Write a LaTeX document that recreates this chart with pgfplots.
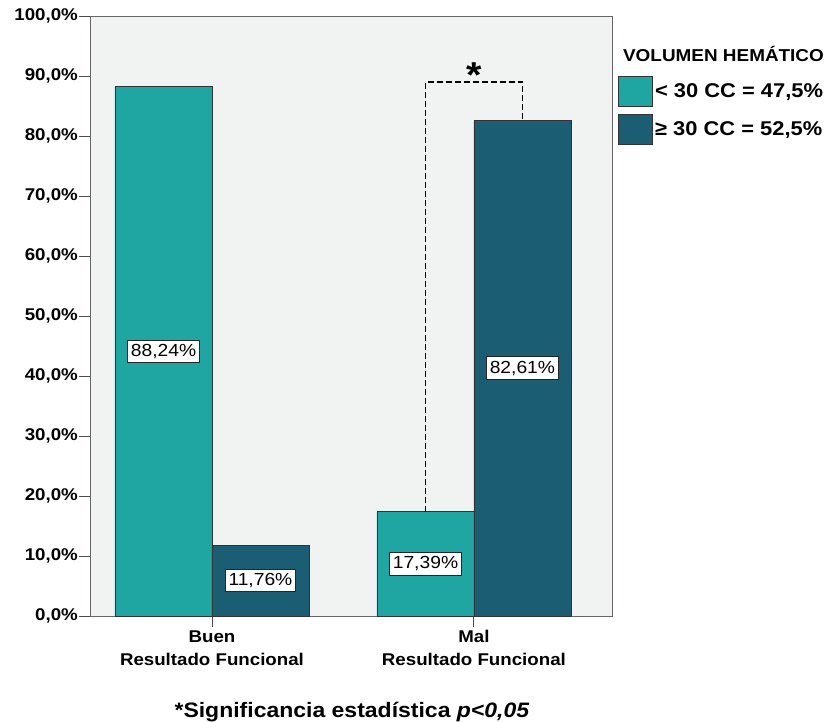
\documentclass[border=0pt]{standalone}
\usepackage{fontspec}
\setmainfont[FakeStretch=1.1]{Liberation Sans}
\usepackage{pgfplots}
\pgfplotsset{compat=1.18}
\definecolor{tealA}{HTML}{1FA6A3}
\definecolor{tealB}{HTML}{1B5D72}
\definecolor{bgc}{HTML}{F1F2F2}
\begin{document}
\begin{tikzpicture}[x=1pt,y=1pt]
\useasboundingbox (0,0) rectangle (830,721);
\begin{axis}[
  at={(90pt,105pt)}, anchor=south west,
  scale only axis, width=522pt, height=600pt,
  xmin=-0.4656, xmax=1.527, ymin=0, ymax=100,
  axis background/.style={fill=bgc},
  axis line style={draw=black!60, line width=0.9pt},
  ytick={0,10,...,100},
  xtick={0,1},
  xticklabels={{Buen\\Resultado Funcional},{Mal\\Resultado Funcional}},
  tick align=outside, major tick length=11pt,
  tick style={black!70, line width=0.9pt},
  xtick pos=left, ytick pos=left,
  /pgf/number format/assume math mode=true,
  yticklabel={\pgfmathprintnumber[fixed,fixed zerofill,precision=1,use comma]{\tick}\%},
  ticklabel style={font=\bfseries\fontsize{17}{23}\selectfont},
  xticklabel style={align=center},
  yticklabel style={inner xsep=1pt},
  legend style={at={(1.0115,0.9)}, anchor=north west, draw=none, fill=none,
    inner sep=0pt, row sep=7pt, font=\bfseries\fontsize{19.9}{22}\selectfont},
  legend cell align=left,
  legend image code/.code={\draw[#1,draw=black!80,line width=0.9pt] (0pt,-15pt) rectangle (34pt,15pt);},
]
\addplot[ybar, bar width=97pt, bar shift=-48.5pt, fill=tealA, draw=black!80, line width=0.7pt]
  coordinates {(0,88.24) (1,17.39)};
\addlegendentry{< 30 CC = 47,5\%}
\addplot[ybar, bar width=97pt, bar shift=48.5pt, fill=tealB, draw=black!80, line width=0.7pt]
  coordinates {(0,11.76) (1,82.61)};
\addlegendentry{≥ 30 CC = 52,5\%}
\addplot[forget plot, draw=none, mark=none, point meta=explicit symbolic, nodes near coords,
  every node near coord/.style={anchor=center, fill=white, draw=black!85, line width=1pt,
    inner xsep=3pt, inner ysep=4pt, font=\fontsize{17.5}{20}\selectfont}]
  coordinates {(-0.185,44.12) [{88,24\%}] (0.185,5.88) [{11,76\%}] (0.815,8.695) [{17,39\%}] (1.185,41.305) [{82,61\%}]};
\addplot[forget plot, black, line width=1.5pt, dash pattern=on 6pt off 3pt]
  coordinates {(0.815,17.39) (0.815,89) (1.185,89) (1.185,82.61)};
\node[font=\bfseries\fontsize{36}{36}\selectfont, anchor=base] at (axis cs:1,88.1) {*};
\end{axis}
\node[font=\bfseries\fontsize{17.2}{20}\selectfont, anchor=base] at (723.5,659) {VOLUMEN HEMÁTICO};
\node[font=\bfseries\fontsize{20.9}{24}\selectfont, anchor=base] at (352,4) {*Significancia estadística \textit{p<0,05}};
\end{tikzpicture}
\end{document}
